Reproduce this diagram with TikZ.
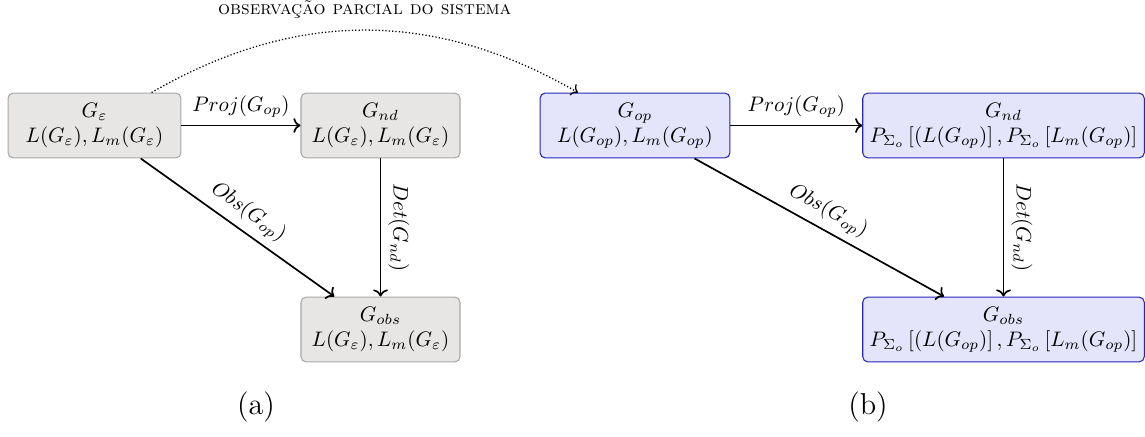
\documentclass[tikz,border=0pt]{standalone}
\usepackage{fontspec}
\usetikzlibrary{arrows.meta}
\definecolor{boxgray}{HTML}{E8E6E4}
\definecolor{boxgrayline}{HTML}{A8A8A8}
\definecolor{boxblue}{HTML}{E4E4FA}
\definecolor{boxblueline}{HTML}{2626B8}
\tikzset{
  graybox/.style={draw=boxgrayline, fill=boxgray, rounded corners=2.5pt, align=center, minimum height=30.9pt, line width=0.5pt},
  bluebox/.style={draw=boxblueline, fill=boxblue, rounded corners=2.5pt, align=center, minimum height=30.9pt, line width=0.5pt},
  conn/.style={->, thick},
}
\begin{document}
\begin{tikzpicture}[x=0.476pt,y=-0.476pt]
\useasboundingbox (0,0) rectangle (1145,436);
% left diagram
\node[graybox, minimum width=82.3pt] (ge) at (94.5,125.5) {$G_\varepsilon$\\$L(G_\varepsilon), L_m(G_\varepsilon)$};
\node[graybox, minimum width=75.7pt] (gnda) at (380.5,125.5) {$G_{nd}$\\$L(G_\varepsilon), L_m(G_\varepsilon)$};
\node[graybox, minimum width=75.7pt] (gobsa) at (380.5,329.5) {$G_{obs}$\\$L(G_\varepsilon), L_m(G_\varepsilon)$};
% right diagram
\node[bluebox, minimum width=90.4pt] (gop) at (635,125.5) {$G_{op}$\\$L(G_{op}), L_m(G_{op})$};
\node[bluebox, minimum width=130.9pt] (gndb) at (1003.5,125.5) {$G_{nd}$\\$P_{\Sigma_o}\left[(L(G_{op})\right], P_{\Sigma_o}\left[L_m(G_{op})\right]$};
\node[bluebox, minimum width=130.9pt] (gobsb) at (1003.5,329.5) {$G_{obs}$\\$P_{\Sigma_o}\left[(L(G_{op})\right], P_{\Sigma_o}\left[L_m(G_{op})\right]$};
% connectors left
\draw[conn] (ge) -- node[above] {$Proj(G_{op})$} (gnda);
\draw[conn] (ge) -- node[above, sloped] {$Obs(G_{op})$} (gobsa);
\draw[conn] (gnda) -- node[above, sloped] {$Det(G_{nd})$} (gobsa);
% connectors right
\draw[conn] (gop) -- node[above] {$Proj(G_{op})$} (gndb);
\draw[conn] (gop) -- node[above, sloped] {$Obs(G_{op})$} (gobsb);
\draw[conn] (gndb) -- node[above, sloped] {$Det(G_{nd})$} (gobsb);
% dotted curve
\draw[->, densely dotted, semithick] (ge) to[bend left=30] node[midway, above=2pt] {\small\textsc{observação parcial do sistema}} (gop);
% captions
\node (capa) at (256,407) {\Large (a)};
\node (capb) at (868,407) {\Large (b)};
\end{tikzpicture}
\end{document}
